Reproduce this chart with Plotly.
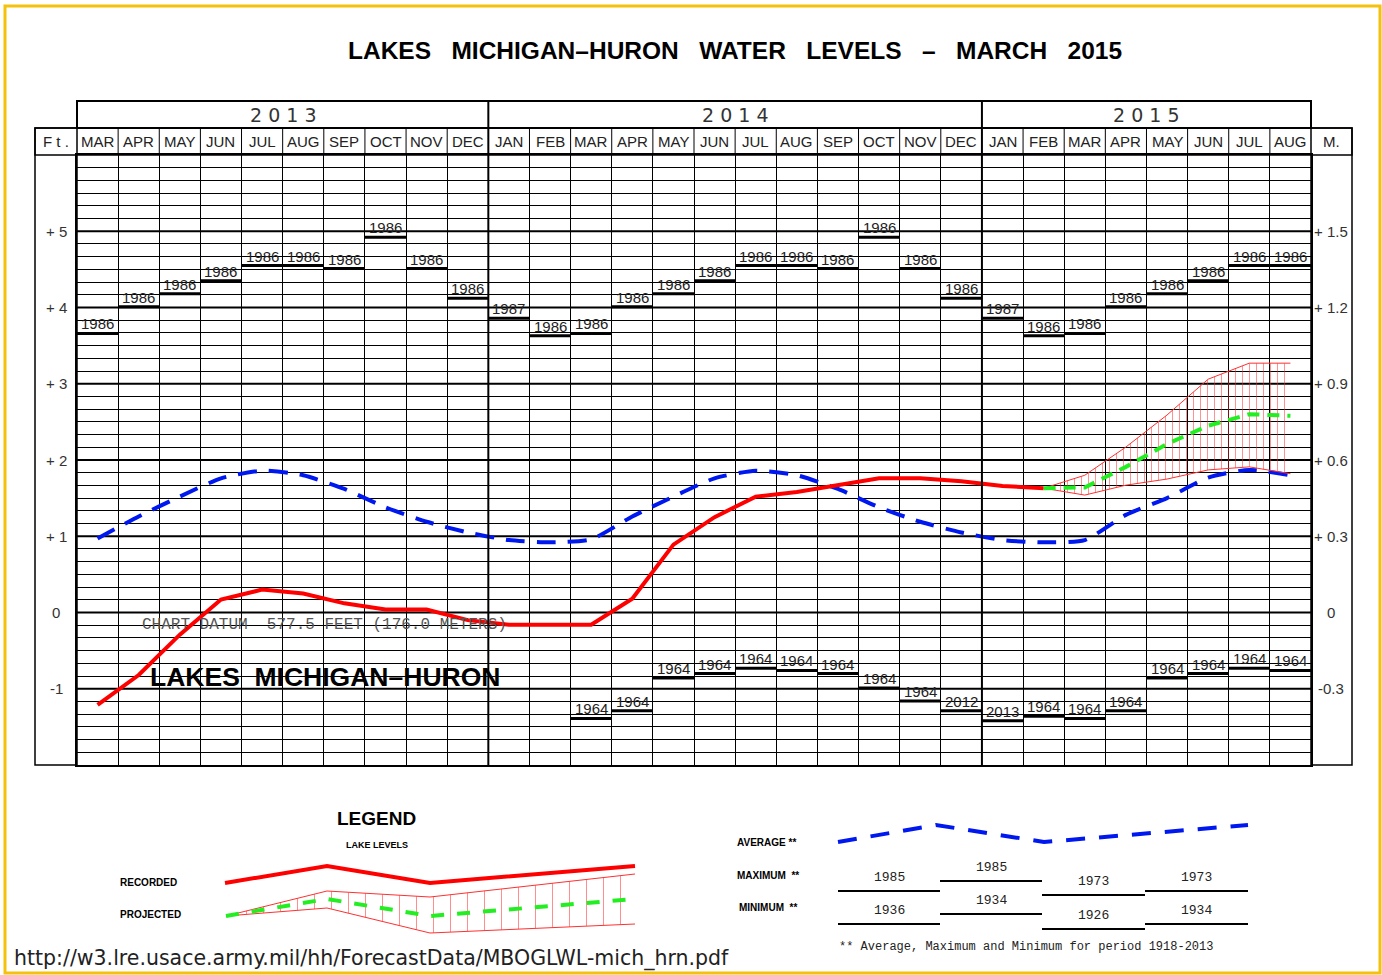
import plotly.graph_objects as go

W, H = 1382, 975

# ---------------- data ----------------
months = ["MAR", "APR", "MAY", "JUN", "JUL", "AUG", "SEP", "OCT", "NOV", "DEC",
          "JAN", "FEB", "MAR", "APR", "MAY", "JUN", "JUL", "AUG", "SEP", "OCT", "NOV", "DEC",
          "JAN", "FEB", "MAR", "APR", "MAY", "JUN", "JUL", "AUG"]
years = ["2 0 1 3", "2 0 1 4", "2 0 1 5"]
year_month_counts = [10, 12, 8]

# recorded level, feet above chart datum (MAR 2013 .. FEB 2015)
recorded = [-1.21, -0.82, -0.29, 0.17, 0.30, 0.25, 0.12, 0.04, 0.04, -0.10,
            -0.16, -0.16, -0.16, 0.18, 0.89, 1.25, 1.52, 1.58, 1.67, 1.76,
            1.76, 1.72, 1.66, 1.63]
# projection FEB 2015 .. AUG 2015
projected = [1.63, 1.64, 1.91, 2.21, 2.45, 2.60, 2.58]
proj_upper = [1.63, 1.80, 2.17, 2.59, 3.06, 3.27, 3.27]
proj_lower = [1.63, 1.54, 1.67, 1.75, 1.87, 1.91, 1.82]

average = [0.97, 1.26, 1.52, 1.76, 1.86, 1.80, 1.62, 1.38, 1.19, 1.05,
           0.95, 0.92, 0.96, 1.26, 1.52, 1.76, 1.86, 1.80, 1.62, 1.38, 1.19, 1.05,
           0.95, 0.92, 0.95, 1.28, 1.50, 1.77, 1.87, 1.80]

maximum = [3.66, 4.01, 4.18, 4.35, 4.55, 4.55, 4.51, 4.92, 4.51, 4.12,
           3.86, 3.63, 3.66, 4.01, 4.18, 4.35, 4.55, 4.55, 4.51, 4.92, 4.51, 4.12,
           3.86, 3.63, 3.66, 4.01, 4.18, 4.35, 4.55, 4.55]
maximum_year = ["1986"] * 10 + ["1987"] + ["1986"] * 11 + ["1987"] + ["1986"] * 7

minimum = [None] * 12 + [-1.39, -1.29, -0.86, -0.80, -0.73, -0.76, -0.80, -0.99, -1.16, -1.29,
                         -1.42, -1.36, -1.39, -1.29, -0.86, -0.80, -0.73, -0.76]
minimum_year = [""] * 12 + ["1964"] * 9 + ["2012", "2013"] + ["1964"] * 7

ft_ticks = [5, 4, 3, 2, 1, 0, -1]
ft_labels = ["+ 5", "+ 4", "+ 3", "+ 2", "+ 1", "0", "-1"]
m_labels = ["+ 1.5", "+ 1.2", "+ 0.9", "+ 0.6", "+ 0.3", "0", "-0.3"]

# legend samples (drawn on a full-page pixel axis)
leg_rec_x = [225, 327, 430, 635]
leg_rec_y = [883, 866, 883, 866]
leg_proj_x = [226, 327, 430, 635]
leg_proj_y = [916, 899, 916, 899]
leg_proj_up = [916, 891, 897, 874]
leg_proj_lo = [916, 908, 933, 924]
leg_avg_x = [838, 936, 1044, 1248]
leg_avg_y = [842, 825, 842, 825]
leg_seg_x = [838, 940, 1042, 1145, 1248]
leg_max_y = [891, 881, 895, 891]
leg_max_yr = ["1985", "1985", "1973", "1973"]
leg_min_y = [924, 914, 929, 924]
leg_min_yr = ["1936", "1934", "1926", "1934"]

# ---------------- helpers ----------------
def PX(p):
    return p / W


def PY(p):
    return (H - p) / H


NARROW = "Liberation Sans Narrow, Arial Narrow, Liberation Sans, sans-serif"
BOLD = "Liberation Sans, Arial, sans-serif"
MONO = "Liberation Mono, DejaVu Sans Mono, monospace"

n = len(months)
xc = [i + 0.5 for i in range(n)]

fig = go.Figure()


def seg_trace(vals):
    xs, ys = [], []
    for i, v in enumerate(vals):
        if v is None:
            continue
        xs += [i, i + 1, None]
        ys += [v, v, None]
    return xs, ys


# max / min record bars
mx, my = seg_trace(maximum)
fig.add_trace(go.Scatter(x=mx, y=my, mode="lines", line=dict(color="black", width=3),
                         hoverinfo="skip"))
nx, ny = seg_trace(minimum)
fig.add_trace(go.Scatter(x=nx, y=ny, mode="lines", line=dict(color="black", width=3),
                         hoverinfo="skip"))

# average
fig.add_trace(go.Scatter(x=xc, y=average, mode="lines",
                         line=dict(color="#0018F0", width=4, dash="19px,12px", shape="spline",
                                   smoothing=0.6)))

# projection band
px_ = xc[23:30]
fig.add_trace(go.Scatter(x=px_, y=proj_lower, mode="lines",
                         line=dict(color="#FF3030", width=1)))
fig.add_trace(go.Scatter(x=px_, y=proj_upper, mode="lines", fill="tonexty",
                         fillcolor="rgba(0,0,0,0)",
                         fillpattern=dict(shape="|", fgcolor="#FF2020", bgcolor="rgba(0,0,0,0)",
                                          size=7, solidity=0.14),
                         line=dict(color="#FF3030", width=1)))

# recorded
fig.add_trace(go.Scatter(x=xc[:24], y=recorded, mode="lines",
                         line=dict(color="#FF0000", width=4)))
# projected
fig.add_trace(go.Scatter(x=px_, y=projected, mode="lines",
                         line=dict(color="#22EE22", width=4, dash="12px,8px")))

# ---------------- legend samples (pixel axis) ----------------
fig.add_trace(go.Scatter(x=leg_rec_x, y=leg_rec_y, xaxis="x2", yaxis="y2", mode="lines",
                         line=dict(color="#FF0000", width=4)))
fig.add_trace(go.Scatter(x=leg_proj_x, y=leg_proj_lo, xaxis="x2", yaxis="y2", mode="lines",
                         line=dict(color="#FF3030", width=1)))
fig.add_trace(go.Scatter(x=leg_proj_x, y=leg_proj_up, xaxis="x2", yaxis="y2", mode="lines",
                         fill="tonexty", fillcolor="rgba(0,0,0,0)",
                         fillpattern=dict(shape="|", fgcolor="#FF2020", bgcolor="rgba(0,0,0,0)",
                                          size=17, solidity=0.06),
                         line=dict(color="#FF3030", width=1)))
fig.add_trace(go.Scatter(x=leg_proj_x, y=leg_proj_y, xaxis="x2", yaxis="y2", mode="lines",
                         line=dict(color="#22EE22", width=4, dash="13px,13px")))
fig.add_trace(go.Scatter(x=leg_avg_x, y=leg_avg_y, xaxis="x2", yaxis="y2", mode="lines",
                         line=dict(color="#0018F0", width=4, dash="19px,14px")))
lx, ly = [], []
for i in range(4):
    lx += [leg_seg_x[i], leg_seg_x[i + 1], None]
    ly += [leg_max_y[i], leg_max_y[i], None]
    lx += [leg_seg_x[i], leg_seg_x[i + 1], None]
    ly += [leg_min_y[i], leg_min_y[i], None]
fig.add_trace(go.Scatter(x=lx, y=ly, xaxis="x2", yaxis="y2", mode="lines",
                         line=dict(color="black", width=2)))

# ---------------- shapes ----------------
shapes = []
for v in range(-1, 6):
    shapes.append(dict(type="line", xref="x", yref="y", x0=0, x1=30, y0=v, y1=v,
                       line=dict(color="black", width=2), layer="below"))
for xb in [10, 22]:
    shapes.append(dict(type="line", xref="x", yref="paper", x0=xb, x1=xb,
                       y0=PY(765), y1=PY(101), line=dict(color="black", width=2)))
for i in range(1, n):
    if i in (10, 22):
        continue
    shapes.append(dict(type="line", xref="x", yref="paper", x0=i, x1=i,
                       y0=PY(155), y1=PY(128), line=dict(color="black", width=1)))
shapes.append(dict(type="rect", xref="paper", yref="paper", x0=PX(77), x1=PX(1311),
                   y0=PY(128), y1=PY(101), line=dict(color="black", width=2)))
shapes.append(dict(type="rect", xref="paper", yref="paper", x0=PX(35), x1=PX(1352),
                   y0=PY(155), y1=PY(128), line=dict(color="black", width=1.5)))
shapes.append(dict(type="rect", xref="paper", yref="paper", x0=PX(35), x1=PX(77),
                   y0=PY(765), y1=PY(128), line=dict(color="black", width=1.5)))
shapes.append(dict(type="rect", xref="paper", yref="paper", x0=PX(1311), x1=PX(1352),
                   y0=PY(765), y1=PY(128), line=dict(color="black", width=1.5)))
shapes.append(dict(type="rect", xref="paper", yref="paper", x0=PX(5), x1=PX(1380),
                   y0=PY(973), y1=PY(6), line=dict(color="#F4C20D", width=3)))

# ---------------- annotations ----------------
ann = []


def txt(x, y, text, size, family=NARROW, color="#222", xref="paper", yref="paper",
        xanchor="center", yanchor="middle", weight="normal", yshift=0):
    ann.append(dict(x=x, y=y, xref=xref, yref=yref, text=text, showarrow=False,
                    xanchor=xanchor, yanchor=yanchor, yshift=yshift,
                    font=dict(family=family, size=size, color=color, weight=weight)))


# record year labels above bars
for i, (v, t) in enumerate(zip(maximum, maximum_year)):
    txt(xc[i], v, t, 15, xref="x", yref="y", yanchor="bottom", yshift=-1)
for i, (v, t) in enumerate(zip(minimum, minimum_year)):
    if v is not None:
        txt(xc[i], v, t, 15, xref="x", yref="y", yanchor="bottom", yshift=-1)

for i, m in enumerate(months):
    txt(xc[i], PY(141.5), m, 15, xref="x")
start = 0
for yl, cnt in zip(years, year_month_counts):
    txt(start + cnt / 2, PY(114.5), yl, 19, family="DejaVu Sans, sans-serif", color="#333",
        xref="x")
    start += cnt
txt(PX(56), PY(141.5), "F t .", 15)
txt(PX(1331), PY(141.5), "M.", 15)
for v, fl, ml in zip(ft_ticks, ft_labels, m_labels):
    txt(PX(56), v, fl, 15, color="#333", yref="y")
    txt(PX(1331), v, ml, 15, color="#333", yref="y")

NB = "\u00a0"
title = (NB * 3).join(["LAKES", "MICHIGAN\u2013HURON", "WATER", "LEVELS", "\u2013", "MARCH", "2015"])
txt(PX(735), PY(51), title, 24.5, family=BOLD, color="black", weight="bold")
txt(PX(324), PY(625),
    "CHART" + NB + "DATUM" + NB * 2 + "577.5" + NB + "FEET" + NB + "(176.0" + NB + "METERS)",
    16, family=MONO, color="#555")
txt(PX(325), PY(677), "LAKES" + NB * 2 + "MICHIGAN\u2013HURON", 26.5, family=NARROW,
    color="black", weight="bold")

# legend texts
txt(PX(377), PY(818), "LEGEND", 19, family=BOLD, color="black", weight="bold")
txt(PX(377), PY(845), "LAKE" + NB + "LEVELS", 9, family=BOLD, color="black", weight="bold")
for t, xx, yy in [("RECORDED", 148, 882), ("PROJECTED", 150, 914),
                  ("AVERAGE" + NB + "**", 766, 842), ("MAXIMUM" + NB * 2 + "**", 768, 875),
                  ("MINIMUM" + NB * 2 + "**", 768, 907)]:
    txt(PX(xx), PY(yy), t, 10, family=BOLD, color="black", weight="bold")
for i in range(4):
    cx = (leg_seg_x[i] + leg_seg_x[i + 1]) / 2
    txt(cx, leg_max_y[i], leg_max_yr[i], 13, family=MONO, xref="x2", yref="y2",
        yanchor="bottom", yshift=4)
    txt(cx, leg_min_y[i], leg_min_yr[i], 13, family=MONO, xref="x2", yref="y2",
        yanchor="bottom", yshift=4)
txt(PX(1026), PY(947),
    NB.join(["**", "Average,", "Maximum", "and", "Minimum", "for", "period", "1918-2013"]),
    12, family=MONO)
txt(PX(12), PY(958), "http://w3.lre.usace.army.mil/hh/ForecastData/MBOGLWL-mich_hrn.pdf",
    20.5, family="DejaVu Sans, Verdana, sans-serif", xanchor="left")

fig.update_layout(
    width=W, height=H, margin=dict(l=0, r=0, t=0, b=0),
    paper_bgcolor="white", plot_bgcolor="rgba(0,0,0,0)", showlegend=False,
    xaxis=dict(domain=[PX(77), PX(1311)], range=[0, 30], showgrid=True, dtick=1, tick0=0,
               gridcolor="black", gridwidth=1, showticklabels=False, ticks="", zeroline=False,
               showline=True, mirror=True, linecolor="black", linewidth=2, fixedrange=True),
    yaxis=dict(domain=[PY(765), PY(155)], range=[-2, 6], showgrid=True, dtick=1 / 6, tick0=-2,
               gridcolor="black", gridwidth=1, showticklabels=False, ticks="", zeroline=False,
               showline=True, mirror=True, linecolor="black", linewidth=2, fixedrange=True),
    xaxis2=dict(domain=[0, 1], range=[0, W], visible=False, anchor="y2", fixedrange=True),
    yaxis2=dict(domain=[0, 1], range=[H, 0], visible=False, anchor="x2", fixedrange=True),
    shapes=shapes, annotations=ann,
)

fig.write_html("out.html", config=dict(displayModeBar=False),
               post_script="document.body.style.margin='0';document.body.style.overflow='hidden';")
